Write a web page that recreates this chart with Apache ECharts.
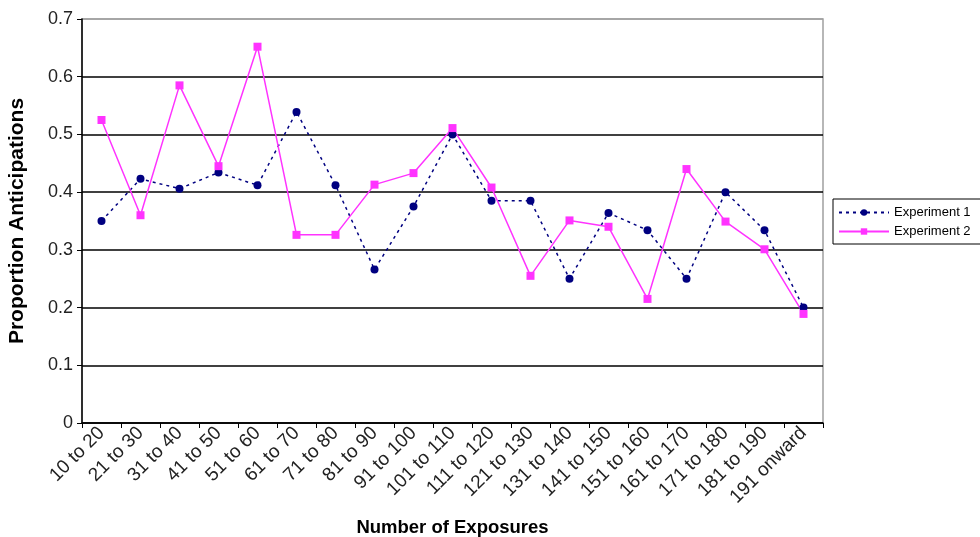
<!DOCTYPE html>
<html>
<head>
<meta charset="utf-8">
<script src="https://cdn.jsdelivr.net/npm/echarts@6/dist/echarts.min.js"></script>
<style>html,body{margin:0;padding:0;background:#fff}#c{width:980px;height:537px}</style>
</head>
<body>
<div id="c"></div>
<script>
const categories = ["10 to 20","21 to 30","31 to 40","41 to 50","51 to 60","61 to 70","71 to 80","81 to 90","91 to 100","101 to 110","111 to 120","121 to 130","131 to 140","141 to 150","151 to 160","161 to 170","171 to 180","181 to 190","191 onward"];
const experiment1 = [0.350,0.423,0.406,0.434,0.412,0.539,0.412,0.266,0.375,0.500,0.385,0.385,0.250,0.364,0.334,0.250,0.400,0.334,0.200];
const experiment2 = [0.525,0.360,0.585,0.445,0.652,0.326,0.326,0.413,0.433,0.511,0.408,0.255,0.351,0.340,0.215,0.440,0.349,0.301,0.189];
const yTicks = [0,0.1,0.2,0.3,0.4,0.5,0.6,0.7];

const chart = echarts.init(document.getElementById('c'), null, {renderer:'canvas'});
const font = 'Liberation Sans, Arial, sans-serif';
chart.setOption({
  animation:false,
  backgroundColor:'#fff',
  grid:{left:82,right:157,top:19,bottom:114,containLabel:false,outerBoundsMode:'none',
    show:true,borderColor:'#a0a0a0',borderWidth:1.5,backgroundColor:'transparent'},
  legend:{
    orient:'vertical', left:833, top:199, padding:[7,40,6,5],
    borderColor:'#000', borderWidth:1, itemGap:6, itemWidth:50, itemHeight:8,
    textStyle:{fontFamily:font,fontSize:13,color:'#000'},
    data:['Experiment 1','Experiment 2']
  },
  xAxis:{
    type:'category', data:categories, boundaryGap:true,
    name:'Number of Exposures', nameLocation:'middle', nameGap:95,
    nameTextStyle:{fontFamily:font,fontSize:18.5,fontWeight:'bold',color:'#000'},
    axisLine:{lineStyle:{color:'#000',width:1.5}},
    axisTick:{show:true,length:5,lineStyle:{color:'#000'}},
    axisLabel:{rotate:45,fontFamily:font,fontSize:19,color:'#222',margin:7,interval:0,hideOverlap:false},
    splitLine:{show:false}
  },
  yAxis:{
    type:'value', min:0, max:0.7, interval:0.1,
    name:'Proportion Anticipations', nameLocation:'middle', nameGap:54,
    nameTextStyle:{fontFamily:font,fontSize:21,fontWeight:'bold',color:'#000'},
    axisLine:{show:true,lineStyle:{color:'#000',width:1.5}},
    axisTick:{show:true,length:5,lineStyle:{color:'#000'}},
    axisLabel:{fontFamily:font,fontSize:18,color:'#222',margin:9,
      formatter:v=>{const t=yTicks.find(x=>Math.abs(x-v)<1e-9);return t===0?'0':String(+v.toFixed(1));}},
    splitLine:{show:true,lineStyle:{color:['#000','#000','#000','#000','#000','#000','#000','#a0a0a0'],width:1.5}}
  },
  series:[
    {name:'Experiment 1',type:'line',data:experiment1,symbol:'circle',symbolSize:8,
      itemStyle:{color:'#000080'},lineStyle:{color:'#000080',width:1.5,type:[3,4]}},
    {name:'Experiment 2',type:'line',data:experiment2,symbol:'rect',symbolSize:8,
      itemStyle:{color:'#ff33ff'},lineStyle:{color:'#ff33ff',width:1.5}}
  ]
});
</script>
</body>
</html>
